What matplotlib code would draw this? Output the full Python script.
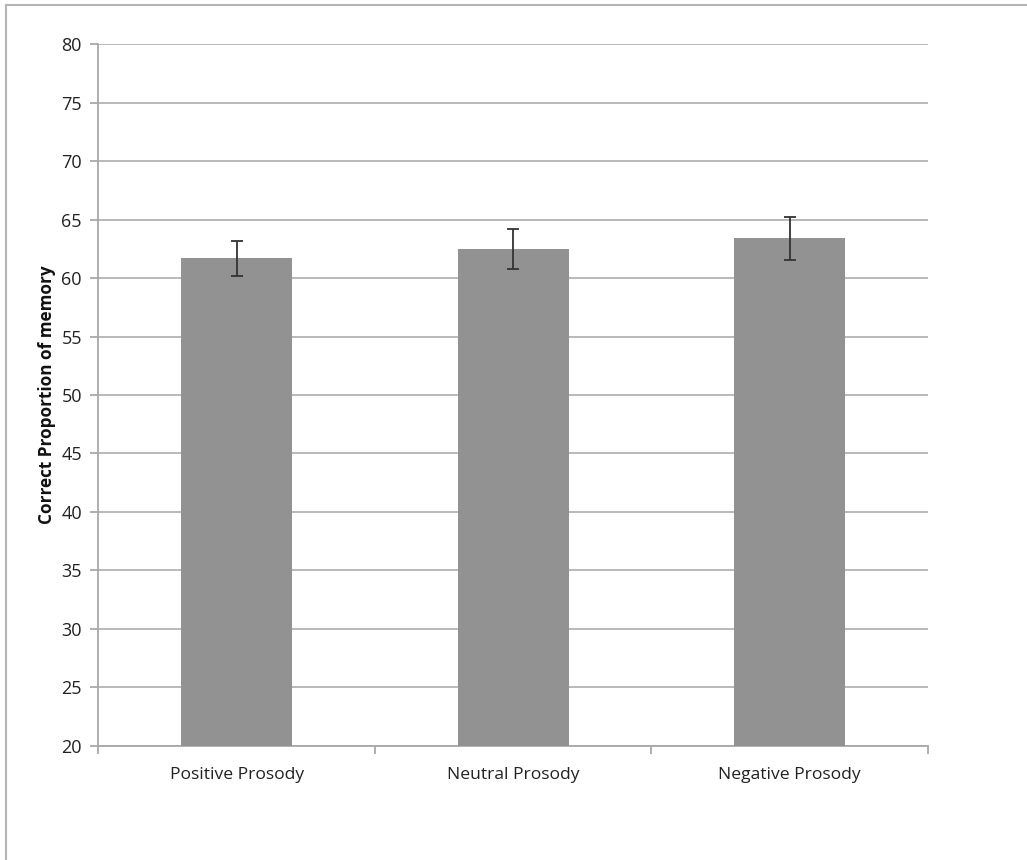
import matplotlib.pyplot as plt
from matplotlib.lines import Line2D

# data
categories = ["Positive Prosody", "Neutral Prosody", "Negative Prosody"]
means = [61.7, 62.45, 63.4]
errors = [1.5, 1.7, 1.85]
yticks = list(range(20, 81, 5))

plt.rcParams['font.family'] = ['Open Sans', 'DejaVu Sans']

fig = plt.figure(figsize=(10.27, 8.6), dpi=100)
ax = fig.add_axes([0.0959, 0.1326, 0.8077, 0.8162])

x = list(range(len(categories)))
ax.bar(x, [m - 20 for m in means], bottom=20, width=0.4, color='#929292', zorder=3)
ax.errorbar(x, means, yerr=errors, fmt='none', ecolor='#333333', elinewidth=1.3,
            capsize=4.2, capthick=1.3, zorder=4)

ax.set_xlim(-0.5, 2.5)
ax.set_ylim(20, 80)
ax.set_yticks(yticks)
ax.set_yticklabels([str(t) for t in yticks], fontsize=13, color='#222222')
ax.grid(axis='y', color='#b3b3b3', linewidth=1.3, zorder=0)
ax.set_axisbelow(True)

# category labels between boundary ticks
ax.set_xticks([-0.5, 0.5, 1.5, 2.5])
ax.set_xticklabels([])
ax.set_xticks(x, minor=True)
ax.set_xticklabels(categories, minor=True, fontsize=12.6, color='#222222')
ax.tick_params(axis='x', which='minor', length=0, pad=15)
ax.tick_params(axis='x', which='major', length=6, width=1.3, color='#a8a8a8')
ax.tick_params(axis='y', length=6, width=1.3, color='#a8a8a8', pad=6)

for s in ['top', 'right']:
    ax.spines[s].set_visible(False)
for s in ['left', 'bottom']:
    ax.spines[s].set_color('#a8a8a8')
    ax.spines[s].set_linewidth(1.3)

ax.set_ylabel("Correct Proportion of memory", fontsize=12.3, fontweight='bold',
              color='#111111', labelpad=4)

# outer frame lines (top and left) like the original chart box
fig.add_artist(Line2D([6 / 1027, 1], [1 - 5 / 860, 1 - 5 / 860], color='#b5b5b5', linewidth=1.5))
fig.add_artist(Line2D([6 / 1027, 6 / 1027], [0, 1 - 5 / 860], color='#b5b5b5', linewidth=1.5))

fig.savefig("out.png", dpi=100, facecolor='white')
